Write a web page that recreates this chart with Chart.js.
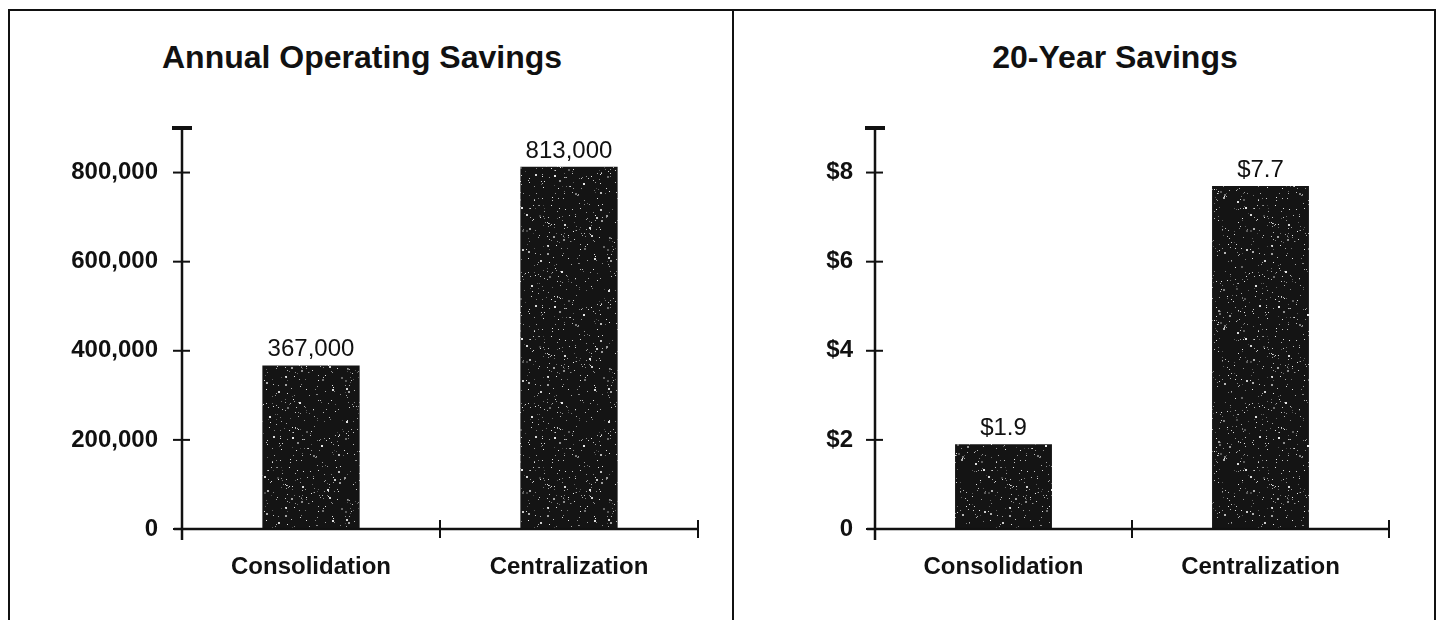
<!DOCTYPE html>
<html>
<head>
<meta charset="utf-8">
<script src="https://cdn.jsdelivr.net/npm/chart.js@4.4.1/dist/chart.umd.min.js"></script>
<style>
  body {
    margin: 0;
    background: #fff;
    width: 1439px;
    height: 620px;
    overflow: hidden;
    position: relative;
    font-family: "Liberation Sans", Arial, sans-serif;
  }
  .frame {
    position: absolute;
    left: 8px;
    top: 9px;
    width: 1424px;
    height: 700px;
    border: 2px solid #111;
  }
  .divider {
    position: absolute;
    left: 732px;
    top: 9px;
    width: 2px;
    height: 700px;
    background: #111;
  }
  .title {
    position: absolute;
    top: 39px;
    width: 600px;
    text-align: center;
    font-weight: bold;
    font-size: 32px;
    line-height: 36px;
    color: #111;
  }
  canvas { position: absolute; top: 12px; }
</style>
</head>
<body>
<div class="frame"></div>
<div class="divider"></div>
<div class="title" style="left:62px">Annual Operating Savings</div>
<div class="title" style="left:815px">20-Year Savings</div>
<canvas id="annualChart" width="720" height="608" style="left:11px"></canvas>
<canvas id="twentyChart" width="697" height="608" style="left:735px"></canvas>

<script>
const categories = ["Consolidation", "Centralization"];

const annualSavings = [367000, 813000];
const annualTicks = [0, 200000, 400000, 600000, 800000];
const annualMax = 900000;

// millions of dollars
const twentyYearSavings = [1.9, 7.7];
const twentyYearTicks = [0, 2, 4, 6, 8];
const twentyYearMax = 9;

const ink = "#111";
const fontFamily = "'Liberation Sans', Arial, sans-serif";

// dark speckled fill like the printed bars
function speckle(ctx) {
    const size = 131;
    const c = document.createElement("canvas");
    c.width = size;
    c.height = size;
    const g = c.getContext("2d");
    g.fillStyle = "#141414";
    g.fillRect(0, 0, size, size);
    let seed = 11;
    const next = () => (seed = (seed * 16807) % 2147483647) / 2147483647;
    for (let i = 0; i < 520; i++) {
        const shade = 70 + Math.floor(next() * 170);
        const dot = next() < 0.12 ? 2 : 1;
        g.fillStyle = `rgb(${shade},${shade},${shade})`;
        g.fillRect(Math.floor(next() * size), Math.floor(next() * size), dot, dot);
    }
    return ctx.createPattern(c, "repeat");
}

function line(ctx, x1, y1, x2, y2) {
    ctx.beginPath();
    ctx.moveTo(x1, y1);
    ctx.lineTo(x2, y2);
    ctx.stroke();
}

// axis lines with ticks crossing them
const handAxes = {
    id: "handAxes",
    afterDatasetsDraw(chart) {
        const { ctx, scales: { x, y } } = chart;
        const ax = x.left;
        const bottom = y.getPixelForValue(0);
        const top = y.getPixelForValue(y.max);

        ctx.save();
        ctx.strokeStyle = ink;

        ctx.lineWidth = 2.5;
        line(ctx, ax, top, ax, bottom + 11);
        line(ctx, ax - 8, bottom, x.right, bottom);

        ctx.lineWidth = 2;
        y.ticks.forEach(t => {
            const py = y.getPixelForValue(t.value);
            line(ctx, ax - 9, py, ax + 8, py);
        });

        ctx.lineWidth = 4;
        line(ctx, ax - 10, top, ax + 10, top);

        ctx.lineWidth = 2;
        const n = x.ticks.length;
        for (let i = 1; i <= n; i++) {
            const px = i < n
                ? (x.getPixelForValue(i - 1) + x.getPixelForValue(i)) / 2
                : x.right;
            line(ctx, px, bottom - 9, px, bottom + 9);
        }
        ctx.restore();
    }
};

// value printed above each bar
const barLabels = {
    id: "barLabels",
    afterDatasetsDraw(chart, args, opts) {
        const { ctx } = chart;
        const meta = chart.getDatasetMeta(0);
        const values = chart.data.datasets[0].data;
        ctx.save();
        ctx.fillStyle = ink;
        ctx.font = `24px ${fontFamily}`;
        ctx.textAlign = "center";
        ctx.textBaseline = "alphabetic";
        meta.data.forEach((bar, i) => {
            ctx.fillText(opts.format(values[i]), bar.x, bar.y - 9);
        });
        ctx.restore();
    }
};

function makeChart(id, values, ticks, max, opt) {
    const canvas = document.getElementById(id);
    const ctx = canvas.getContext("2d");

    return new Chart(ctx, {
        type: "bar",
        data: {
            labels: categories,
            datasets: [{
                data: values,
                backgroundColor: speckle(ctx),
                borderWidth: 0,
                barPercentage: 0.377,
                categoryPercentage: 1
            }]
        },
        options: {
            responsive: false,
            animation: false,
            layout: {
                padding: { top: 116, right: opt.right, left: 0, bottom: 0 }
            },
            plugins: {
                legend: { display: false },
                tooltip: { enabled: false },
                barLabels: { format: opt.label }
            },
            scales: {
                x: {
                    offset: true,
                    afterFit: s => { s.height = 91; },
                    grid: { display: false, drawTicks: false },
                    border: { display: false },
                    ticks: {
                        padding: 24,
                        maxRotation: 0,
                        color: ink,
                        font: { family: fontFamily, size: 24, weight: "bold" }
                    }
                },
                y: {
                    min: 0,
                    max: max,
                    afterBuildTicks: s => { s.ticks = ticks.map(v => ({ value: v })); },
                    afterFit: s => { s.width = opt.left; },
                    grid: { display: false, drawTicks: false },
                    border: { display: false },
                    ticks: {
                        padding: opt.tickPad,
                        color: ink,
                        font: { family: fontFamily, size: 24, weight: "bold" },
                        callback: opt.tick
                    }
                }
            }
        },
        plugins: [handAxes, barLabels]
    });
}

makeChart("annualChart", annualSavings, annualTicks, annualMax, {
    left: 171,
    right: 33,
    tickPad: 24,
    tick: v => v.toLocaleString("en-US"),
    label: v => v.toLocaleString("en-US")
});

makeChart("twentyChart", twentyYearSavings, twentyYearTicks, twentyYearMax, {
    left: 140,
    right: 43,
    tickPad: 22,
    tick: v => (v === 0 ? "0" : "$" + v),
    label: v => "$" + v.toFixed(1)
});
</script>
</body>
</html>
